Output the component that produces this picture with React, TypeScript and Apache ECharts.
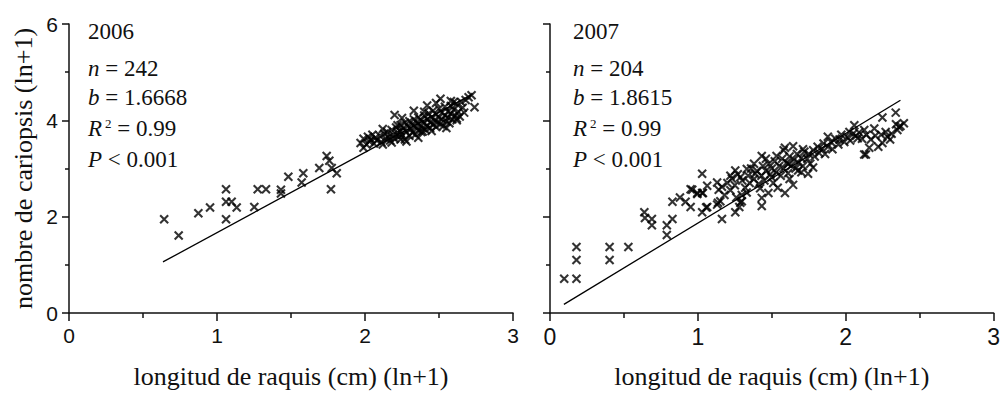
import React, { useEffect, useRef } from 'react';
import * as echarts from 'echarts';

// ---- data (x = longitud de raquis (cm) (ln+1), y = nombre de cariopsis (ln+1)) ----
const points2006: number[][] = [
  [0.643, 1.945], [0.741, 1.61], [0.874, 2.07], [0.953, 2.19], [1.061, 2.57], [1.061, 2.31],
  [1.099, 2.31], [1.133, 2.19], [1.061, 1.945], [1.252, 2.2], [1.275, 2.57], [1.331, 2.57],
  [1.432, 2.56], [1.432, 2.48], [1.482, 2.83], [1.572, 2.71], [1.583, 2.9], [1.691, 3.01],
  [1.741, 3.26], [1.759, 3.16], [1.775, 3.01], [1.809, 2.9], [1.77, 2.57],
  [1.97, 3.53], [1.99, 3.62], [2.01, 3.5], [2.02, 3.66], [2.03, 3.56], [2.04, 3.6], [2.05, 3.7],
  [2.06, 3.52], [2.07, 3.64], [2.08, 3.58], [2.1, 3.68], [2.11, 3.55], [2.12, 3.5], [2.13, 3.72],
  [2.14, 3.62], [2.15, 3.76], [2.16, 3.66], [2.17, 3.58], [2.18, 3.8], [2.19, 3.7], [2.2, 3.62],
  [2.21, 3.85], [2.22, 3.74], [2.23, 3.66], [2.24, 3.9], [2.24, 3.78], [2.25, 3.7], [2.26, 3.84],
  [2.27, 3.6], [2.27, 3.95], [2.28, 3.76], [2.29, 3.88], [2.3, 3.68], [2.3, 3.98], [2.31, 3.82],
  [2.32, 3.74], [2.32, 3.92], [2.33, 4.02], [2.34, 3.86], [2.34, 3.7], [2.35, 3.96], [2.36, 3.8],
  [2.36, 4.06], [2.37, 3.9], [2.38, 3.76], [2.38, 4.0], [2.39, 3.84], [2.4, 4.1], [2.4, 3.94],
  [2.41, 3.8], [2.42, 4.02], [2.42, 3.88], [2.43, 4.14], [2.44, 3.96], [2.44, 3.84], [2.45, 4.06],
  [2.46, 3.92], [2.46, 4.2], [2.47, 4.0], [2.48, 3.86], [2.48, 4.12], [2.49, 3.96], [2.5, 4.06],
  [2.5, 4.24], [2.51, 3.92], [2.52, 4.16], [2.52, 4.02], [2.53, 3.88], [2.54, 4.1], [2.54, 4.28],
  [2.55, 3.98], [2.56, 4.18], [2.56, 4.06], [2.57, 3.94], [2.58, 4.14], [2.58, 4.3], [2.59, 4.02],
  [2.6, 4.22], [2.61, 4.1], [2.62, 4.0], [2.62, 4.34], [2.63, 4.18], [2.64, 4.08], [2.65, 4.38],
  [2.66, 4.26], [2.67, 4.16], [2.68, 4.42], [2.7, 4.48], [2.72, 4.52], [2.74, 4.27], [2.28, 3.56],
  [2.22, 3.9], [2.36, 3.64], [2.45, 3.78], [2.12, 3.82], [2.18, 3.54], [2.55, 3.84], [2.4, 4.18],
  [2.6, 4.38], [2.2, 4.11], [2.25, 4.05], [2.42, 4.31], [2.51, 4.45], [2.48, 4.36], [2.33, 4.2],
  [2.58, 4.4], [1.99, 3.43], [2.24, 3.6], [2.39, 3.77], [2.62, 4.04],
];

const points2007: number[][] = [
  [0.096, 0.71], [0.179, 0.71], [0.179, 1.1], [0.179, 1.37], [0.403, 1.37], [0.403, 1.1],
  [0.53, 1.37], [0.638, 2.09], [0.642, 1.97], [0.689, 1.95], [0.689, 1.82], [0.79, 1.82],
  [0.79, 1.62], [0.828, 1.95], [0.828, 2.31], [0.879, 2.4], [0.917, 2.31], [0.951, 2.2],
  [0.951, 2.57], [0.996, 2.49], [1.029, 2.49], [1.029, 2.09], [1.063, 2.2], [1.063, 2.64],
  [1.029, 2.89], [1.163, 1.95], [1.253, 2.09], [1.28, 2.2], [1.297, 2.32], [1.136, 2.29],
  [1.056, 2.19], [0.962, 2.56], [0.996, 2.47], [1.034, 2.49],
  [1.13, 2.71], [1.141, 2.56], [1.163, 2.62], [1.152, 2.32], [1.13, 2.25], [1.23, 2.79],
  [1.253, 2.96], [1.287, 2.82], [1.297, 2.45], [1.287, 2.29], [1.331, 2.99], [1.387, 2.89],
  [1.432, 3.26], [1.421, 2.59], [1.432, 2.39], [1.432, 2.22], [1.477, 2.49], [1.499, 2.82],
  [1.532, 3.26], [1.589, 3.43], [1.589, 2.49], [1.644, 3.46], [1.644, 2.66], [1.611, 3.1],
  [1.678, 2.96], [1.711, 3.4], [1.745, 2.89], [1.779, 3.02], [1.879, 3.66], [1.958, 3.6],
  [2.025, 3.76], [2.058, 3.9], [2.081, 3.63], [2.136, 3.29], [2.125, 3.8], [2.159, 3.43],
  [2.193, 3.83], [2.248, 3.53], [2.248, 4.06], [2.27, 3.76], [2.282, 3.66], [2.338, 4.16],
  [2.349, 3.8], [2.36, 3.86], [2.393, 3.94], [2.125, 3.29],
  [1.2, 2.7], [1.22, 2.55], [1.25, 2.65], [1.27, 2.88], [1.3, 2.75], [1.32, 2.6], [1.34, 2.85],
  [1.35, 2.7], [1.36, 3.0], [1.38, 2.78], [1.4, 2.95], [1.41, 2.68], [1.43, 2.85], [1.44, 3.05],
  [1.45, 2.75], [1.46, 2.95], [1.48, 3.1], [1.49, 2.88], [1.5, 3.0], [1.51, 2.7], [1.52, 3.15],
  [1.53, 2.92], [1.55, 3.05], [1.56, 2.85], [1.57, 3.2], [1.58, 3.0], [1.6, 3.12], [1.61, 2.9],
  [1.62, 3.25], [1.63, 3.05], [1.65, 3.18], [1.66, 3.0], [1.67, 3.3], [1.68, 3.12], [1.7, 3.22],
  [1.71, 3.05], [1.72, 3.35], [1.74, 3.2], [1.75, 3.3], [1.76, 3.1], [1.78, 3.38], [1.79, 3.25],
  [1.81, 3.45], [1.82, 3.32], [1.84, 3.4], [1.85, 3.52], [1.86, 3.3], [1.88, 3.45], [1.9, 3.55],
  [1.91, 3.4], [1.93, 3.62], [1.95, 3.5], [1.97, 3.7], [1.99, 3.55], [2.01, 3.65], [2.03, 3.58],
  [2.05, 3.72], [2.07, 3.68], [2.09, 3.75], [2.11, 3.62], [2.14, 3.7], [2.17, 3.6], [2.2, 3.68],
  [2.22, 3.45], [2.24, 3.7], [2.3, 3.6], [2.31, 3.72], [2.37, 3.88], [2.34, 3.92], [1.58, 3.38],
  [1.46, 3.2], [1.38, 3.1], [1.54, 2.6], [1.62, 2.78], [1.7, 2.92], [1.26, 2.4], [1.33, 2.5],
  [1.18, 2.45], [1.22, 2.85],
];

const fit2006: number[][] = [[0.635, 1.06], [2.72, 4.535]];
const fit2007: number[][] = [[0.094, 0.18], [2.37, 4.417]];

const stats2006 = { year: '2006', n: '242', b: '1.6668', r2: '0.99', p: '0.001' };
const stats2007 = { year: '2007', n: '204', b: '1.8615', r2: '0.99', p: '0.001' };

const xTitle = 'longitud de raquis (cm) (ln+1)';
const yTitle = 'nombre de cariopsis (ln+1)';

const SERIF = '"Liberation Serif", "DejaVu Serif", serif';
const SANS = '"Liberation Sans", Arial, sans-serif';
const CROSS = 'path://M0,0L10,10M10,0L0,10';

function statTexts(s: typeof stats2006, x: number) {
  const ys = [31, 68, 97, 128, 159];
  const base = { fontFamily: SERIF, fontSize: 23, fill: '#111', verticalAlign: 'middle' as const };
  const rich = {
    i: { fontFamily: SERIF, fontSize: 23, fontStyle: 'italic', fill: '#111' },
    t: { fontFamily: SERIF, fontSize: 23, fill: '#111' },
    s: { fontFamily: SERIF, fontSize: 13, fill: '#111', verticalAlign: 'top', padding: [0, 0, 0, 3] },
  };
  const lines = [
    `{t|${s.year}}`,
    `{i|n}{t| = ${s.n}}`,
    `{i|b}{t| = ${s.b}}`,
    `{i|R}{s|2}{t| = ${s.r2}}`,
    `{i|P}{t| < ${s.p}}`,
  ];
  return lines.map((text, k) => ({
    type: 'text',
    x,
    y: ys[k],
    style: { ...base, text, rich },
  }));
}

function xAxisCfg(gridIndex: number, labelSize: number) {
  return {
    type: 'value',
    gridIndex,
    min: 0,
    max: 3,
    interval: 1,
    name: xTitle,
    nameLocation: 'middle',
    nameGap: 50,
    nameTextStyle: { fontFamily: SERIF, fontSize: 26, color: '#111' },
    axisLine: { show: true, onZero: false, lineStyle: { color: '#111', width: 1.5 } },
    axisTick: { show: true, length: 8, lineStyle: { color: '#111', width: 1.5 } },
    minorTick: { show: true, splitNumber: 2, length: 5, lineStyle: { color: '#111', width: 1.5 } },
    axisLabel: { fontFamily: SANS, fontSize: labelSize, color: '#111', margin: 12 },
    splitLine: { show: false },
    minorSplitLine: { show: false },
  };
}

function yAxisCfg(gridIndex: number, showLabels: boolean) {
  return {
    type: 'value',
    gridIndex,
    min: 0,
    max: 6,
    interval: 2,
    name: showLabels ? yTitle : '',
    nameLocation: 'middle',
    nameRotate: 90,
    nameGap: 33,
    nameTextStyle: { fontFamily: SERIF, fontSize: 26, color: '#111' },
    axisLine: { show: true, onZero: false, lineStyle: { color: '#111', width: 1.5 } },
    axisTick: { show: true, length: 7, lineStyle: { color: '#111', width: 1.5 } },
    minorTick: { show: true, splitNumber: 2, length: 4, lineStyle: { color: '#111', width: 1.5 } },
    axisLabel: { show: showLabels, fontFamily: SANS, fontSize: 21, color: '#111', margin: 11 },
    splitLine: { show: false },
    minorSplitLine: { show: false },
  };
}

function scatterSeries(data: number[][], idx: number) {
  return {
    type: 'scatter',
    xAxisIndex: idx,
    yAxisIndex: idx,
    data,
    symbol: CROSS,
    symbolSize: 8,
    itemStyle: { color: 'rgba(0,0,0,0)', borderColor: '#000', borderWidth: 2.1 },
    silent: true,
  };
}

function fitSeries(data: number[][], idx: number) {
  return {
    type: 'line',
    xAxisIndex: idx,
    yAxisIndex: idx,
    data,
    symbol: 'none',
    lineStyle: { color: '#000', width: 1.3 },
    silent: true,
  };
}

export default function App() {
  const ref = useRef<HTMLDivElement>(null);
  useEffect(() => {
    if (!ref.current) return;
    const chart = echarts.init(ref.current, undefined, { renderer: 'svg' });
    chart.setOption({
      animation: false,
      backgroundColor: '#fff',
      grid: [
        { left: 69, top: 24, width: 444, height: 294 },
        { left: 550, top: 24, width: 447, height: 298 },
      ],
      xAxis: [xAxisCfg(0, 21), xAxisCfg(1, 23)],
      yAxis: [yAxisCfg(0, true), yAxisCfg(1, false)],
      series: [
        fitSeries(fit2006, 0),
        scatterSeries(points2006, 0),
        fitSeries(fit2007, 1),
        scatterSeries(points2007, 1),
      ],
      graphic: [...statTexts(stats2006, 88), ...statTexts(stats2007, 573)],
    });
    return () => chart.dispose();
  }, []);
  return (
    <div
      ref={ref}
      style={{ position: 'absolute', left: 0, top: 0, width: 1003, height: 394, background: '#fff' }}
    />
  );
}
